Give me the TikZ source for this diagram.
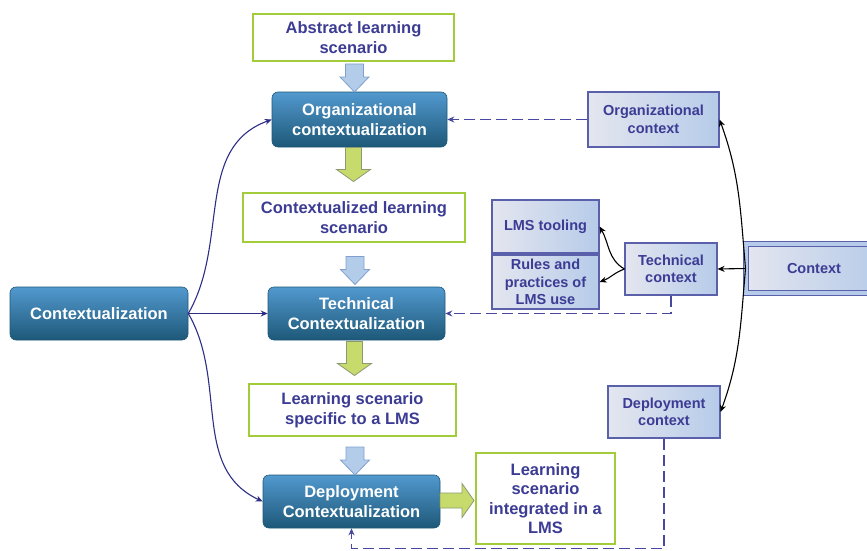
\documentclass[tikz,border=0pt]{standalone}
\usepackage{fontspec}
\setmainfont{Liberation Sans}
\usepackage{xcolor}
\usetikzlibrary{arrows.meta, positioning, calc}

\definecolor{boxtop}{HTML}{5299CF}
\definecolor{boxbot}{HTML}{1D5878}
\definecolor{scenline}{HTML}{A2CC3A}
\definecolor{scentext}{HTML}{3C3C94}
\definecolor{ctxline}{HTML}{5A60AA}
\definecolor{ctxleft}{HTML}{E4E6EF}
\definecolor{ctxright}{HTML}{B6CBE9}
\definecolor{linkblue}{HTML}{2E2E86}
\definecolor{dashblue}{HTML}{4848A0}
\definecolor{arrblue}{HTML}{B2CCEA}
\definecolor{arrblueline}{HTML}{7F9FCC}
\definecolor{arrgreen}{HTML}{C6DB6C}
\definecolor{arrgreenline}{HTML}{8C9A72}

\tikzset{
  bluedown/.pic={
    \draw[arrblueline, fill=arrblue, line width=0.8pt]
      (-9,-14) -- (9,-14) -- (9,-1) -- (14.5,-1) -- (0,14) -- (-14.5,-1) -- (-9,-1) -- cycle;
  },
  greendown/.pic={
    \draw[arrgreenline, fill=arrgreen, line width=0.8pt]
      (-8,-17) -- (8,-17) -- (8,5) -- (17,5) -- (0,17) -- (-17,5) -- (-8,5) -- cycle;
  },
  greenright/.pic={
    \draw[arrgreenline, fill=arrgreen, line width=0.8pt]
      (-17,-7.5) -- (5,-7.5) -- (5,-17) -- (17,0) -- (5,17) -- (5,7.5) -- (-17,7.5) -- cycle;
  }
}

\begin{document}
\begin{tikzpicture}[
  x=1pt, y=-1pt,
  every node/.style={font=\bfseries\fontsize{16.5}{19.5}\selectfont, align=center, inner sep=2pt},
  ctxz/.style={rounded corners=6pt, top color=boxtop, bottom color=boxbot, draw=boxbot, line width=0.6pt, text=white},
  scen/.style={draw=scenline, line width=2.5pt, fill=white, text=scentext},
  ctxbox/.style={draw=ctxline, line width=1.1pt, left color=ctxleft, right color=ctxright, text=scentext,
    inner sep=1pt, font=\bfseries\fontsize{14.5}{17.5}\selectfont},
  link/.style={draw=linkblue, line width=1.1pt, -{Stealth[length=7pt,width=6pt]}},
  dlink/.style={draw=dashblue, line width=1.4pt, dash pattern=on 11pt off 5pt, -{Stealth[length=7pt,width=6pt]}},
  blink/.style={draw=black, line width=1.1pt, -{Stealth[length=7pt,width=6pt]}}
]
\useasboundingbox (0,0) rectangle (867,551);

% scenarios (green frames)
\node[scen, minimum width=201pt, minimum height=47pt] (abs) at (353.5,37.5) {Abstract learning\\scenario};
\node[scen, minimum width=222pt, minimum height=49pt] (cls) at (354,217.5) {Contextualized learning\\scenario};
\node[scen, minimum width=207pt, minimum height=52pt] (lmss) at (352.5,410) {Learning scenario\\specific to a LMS};
\node[scen, minimum width=139pt, minimum height=91pt] (integ) at (545.5,498.5) {Learning\\scenario\\integrated in a\\LMS};

% contextualization steps
\node[ctxz, minimum width=178pt, minimum height=53pt] (contextz) at (99,313.5) {Contextualization};
\node[ctxz, minimum width=175pt, minimum height=55pt] (orgc) at (359.5,119.5) {Organizational\\contextualization};
\node[ctxz, minimum width=177pt, minimum height=53pt] (techc) at (356.5,313.5) {Technical\\Contextualization};
\node[ctxz, minimum width=177pt, minimum height=53pt] (depc) at (351.5,501.5) {Deployment\\Contextualization};

% contexts
\node[ctxbox, minimum width=131pt, minimum height=55pt] (orgctx) at (653.5,119.5) {Organizational\\context};
\node[ctxbox, minimum width=107pt, minimum height=53pt] (tooling) at (545.5,226.5) {LMS tooling};
\node[ctxbox, minimum width=107pt, minimum height=54pt] (rules) at (545.5,282) {Rules and\\practices of\\LMS use};
\node[ctxbox, minimum width=92pt, minimum height=52pt] (techctx) at (671,269) {Technical\\context};
\node[ctxbox, minimum width=112pt, minimum height=52pt] (depctx) at (664,412) {Deployment\\context};
\node[ctxbox, double=ctxright, double distance=4pt, line width=1pt, minimum width=136pt, minimum height=49pt] (context) at (814,268.5) {Context};

% block arrows
\pic at (354.5,78) {bluedown};
\pic at (353.5,164.5) {greendown};
\pic at (355,270.5) {bluedown};
\pic at (354.5,358.5) {greendown};
\pic at (355,461) {bluedown};
\pic at (457,500.5) {greenright};

% links
\draw[link] (contextz.east) to[out=60,in=200] (orgc.west);
\draw[link] (contextz.east) -- (techc.west);
\draw[link] (contextz.east) to[out=-60,in=155] (depc.west);

\draw[dlink] (orgctx.west) -- (orgc.east);
\draw[dlink] (techctx.south) |- (techc.east);
\draw[dlink] (depctx.south) -- ++(0,110) -| (depc.south);

\draw[blink] (context.west) -- (techctx.east);
\draw[blink] (context.west) to[out=95,in=-70] (orgctx.east);
\draw[blink] (context.west) to[out=-95,in=70] (depctx.east);
\draw[blink] (techctx.west) to[out=150,in=-60] (tooling.east);
\draw[blink] (techctx.west) to[out=200,in=20] (rules.east);
\end{tikzpicture}
\end{document}
